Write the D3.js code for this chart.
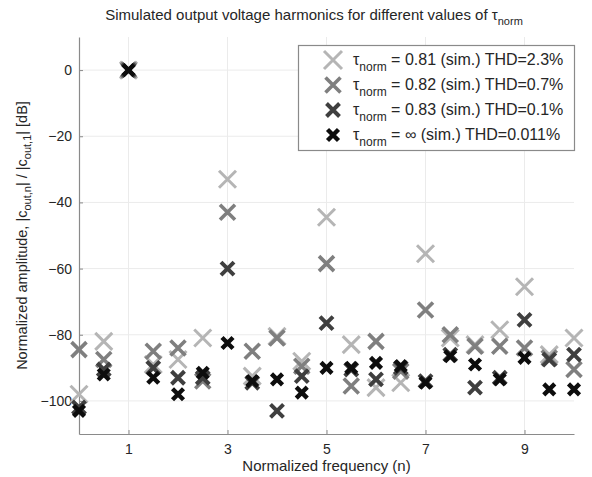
<!DOCTYPE html>
<html><head><meta charset="utf-8">
<script src="https://cdn.jsdelivr.net/npm/d3@7"></script>
<style>body{margin:0;background:#fff}svg{display:block;font-family:"Liberation Sans",Arial,sans-serif}</style>
</head><body><svg id="c" width="592" height="477"></svg>
<script>
const harmonics = [0,0.5,1,1.5,2,2.5,3,3.5,4,4.5,5,5.5,6,6.5,7,7.5,8,8.5,9,9.5,10];
const tau081 = [-98,-82,0,-89,-87.5,-81,-33,-92.5,-80.5,-88,-44.5,-83,-96,-94.5,-55.5,-81,-83,-78.5,-65.5,-86,-81];
const tau082 = [-84.5,-87.5,0,-85,-84,-94,-43,-85,-81,-89.5,-58.5,-95.5,-82,-91,-72.5,-80,-83.5,-83.5,-84,-87,-90.5];
const tau083 = [-102,-90.5,0,-90,-93,-93,-60,-94.5,-103,-92.5,-76.5,-90.5,-93.5,-90,-94,-86,-96,-93,-75.5,-87.5,-86];
const tauInf = [-103,-92,0,-93,-98,-91.5,-82.5,-94,-93.5,-97.5,-90,-90,-88.5,-89.5,-94.5,-86.5,-89,-93.5,-87,-96.5,-96.5];
const legendTau = ["0.81","0.82","0.83","\u221e"];
const legendTHD = ["2.3%","0.7%","0.1%","0.011%"];
const xTicks = [1,3,5,7,9];
const yTicks = [0,-20,-40,-60,-80,-100];

const series = [
  {vals: tau081, color:"#b5b5b5", r:8.5, w:3},
  {vals: tau082, color:"#7f7f7f", r:7.5, w:3.6},
  {vals: tau083, color:"#3f3f3f", r:6.5, w:4},
  {vals: tauInf, color:"#0d0d0d", r:5.5, w:4.4}
];

const svg = d3.select("#c");
const L=79, R=574, T=37, B=434;
const x = d3.scaleLinear().domain([0,10]).range([L,R]);
const y = d3.scaleLinear().domain([-110,10]).range([B,T]);
const txt = "#262626";

// grid
svg.append("g").selectAll("line").data(xTicks).join("line")
  .attr("x1",d=>x(d)).attr("x2",d=>x(d)).attr("y1",T).attr("y2",B)
  .attr("stroke","#ebebeb").attr("stroke-width",1);
svg.append("g").selectAll("line").data(yTicks).join("line")
  .attr("y1",d=>y(d)).attr("y2",d=>y(d)).attr("x1",L).attr("x2",R)
  .attr("stroke","#ebebeb").attr("stroke-width",1);

// axes
const xAxis = d3.axisBottom(x).tickValues(xTicks).tickSizeInner(-4).tickSizeOuter(0).tickPadding(10);
const yAxis = d3.axisLeft(y).tickValues(yTicks).tickSizeInner(-4).tickSizeOuter(0).tickPadding(7);
const gx = svg.append("g").attr("transform",`translate(0,${B})`).call(xAxis);
const gy = svg.append("g").attr("transform",`translate(${L},0)`).call(yAxis);
[gx,gy].forEach(g=>{
  g.select(".domain").attr("stroke","#8a8a8a").attr("stroke-width",1.2);
  g.selectAll(".tick line").attr("stroke","#8a8a8a");
  g.selectAll(".tick text").attr("fill",txt).attr("font-size",14).attr("font-family","Liberation Sans, Arial, sans-serif");
});

// markers
function cross(sel, r){
  return sel.attr("d",`M${-r},${-r}L${r},${r}M${-r},${r}L${r},${-r}`);
}
series.forEach(s=>{
  svg.append("g").selectAll("path").data(harmonics.map((h,i)=>[h,s.vals[i]])).join("path")
    .call(p=>cross(p,s.r))
    .attr("transform",d=>`translate(${x(d[0])},${y(d[1])})`)
    .attr("fill","none").attr("stroke",s.color).attr("stroke-width",s.w).attr("stroke-linecap","butt");
});

// title
const title = svg.append("text").attr("x",314).attr("y",20).attr("text-anchor","middle").attr("fill",txt).attr("font-size",15);
title.append("tspan").text("Simulated output voltage harmonics for different values of \u03c4");
title.append("tspan").attr("dy",5).attr("font-size",11).text("norm");

// x label
svg.append("text").attr("x",(L+R)/2).attr("y",471).attr("text-anchor","middle")
  .attr("fill",txt).attr("font-size",15).text("Normalized frequency (n)");

// y label
const yl = svg.append("text").attr("transform",`translate(27,${(T+B)/2}) rotate(-90)`)
  .attr("text-anchor","middle").attr("fill",txt).attr("font-size",14.5);
yl.append("tspan").text("Normalized amplitude, |c");
yl.append("tspan").attr("dy",4).attr("font-size",11).text("out,n");
yl.append("tspan").attr("dy",-4).text("| / |c");
yl.append("tspan").attr("dy",4).attr("font-size",11).text("out,1");
yl.append("tspan").attr("dy",-4).text("| [dB]");

// legend
const lg = svg.append("g");
lg.append("rect").attr("x",298.5).attr("y",45.5).attr("width",276).attr("height",105)
  .attr("fill","#fff").attr("stroke","#8a8a8a").attr("stroke-width",1.2);
const rows = [60,85,110,135];
const lr = [9,7.5,6.5,5.5];
series.forEach((s,i)=>{
  lg.append("path").call(p=>cross(p,lr[i]))
    .attr("transform",`translate(333,${rows[i]})`)
    .attr("fill","none").attr("stroke",s.color).attr("stroke-width",s.w);
  const t = lg.append("text").attr("x",353).attr("y",rows[i]+5).attr("fill",txt).attr("font-size",16);
  t.append("tspan").text("\u03c4");
  t.append("tspan").attr("dy",6).attr("font-size",12).text("norm");
  t.append("tspan").attr("dy",-6).text(` = ${legendTau[i]} (sim.) THD=${legendTHD[i]}`);
});
</script></body></html>
